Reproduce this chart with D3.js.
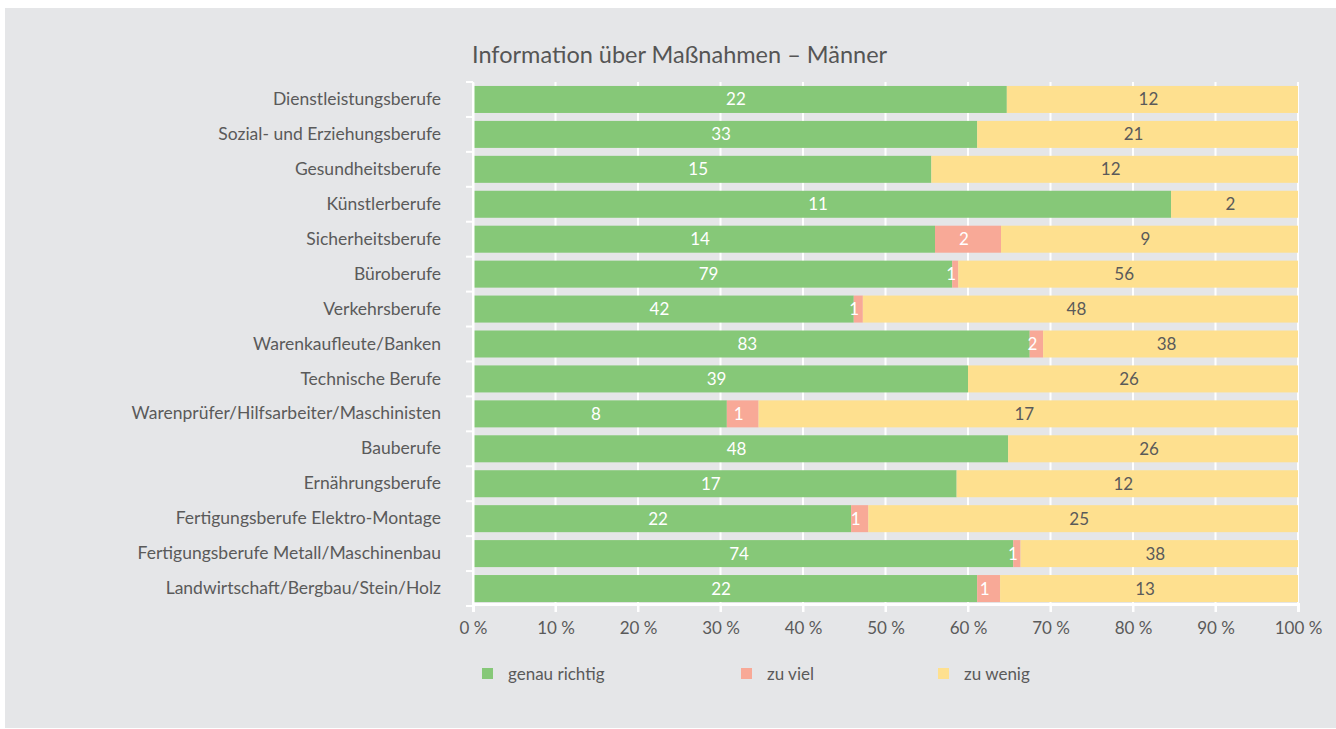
<!DOCTYPE html>
<html>
<head>
<meta charset="utf-8">
<script src="https://cdn.jsdelivr.net/npm/d3@7"></script>
<style>
  body { margin: 0; background: #fff; }
  text { font-family: "Lato", "Open Sans", sans-serif; }
</style>
</head>
<body>
<div id="chart-area"></div>
<script>
var categories = ["Dienstleistungsberufe", "Sozial- und Erziehungsberufe", "Gesundheitsberufe",
  "Künstlerberufe", "Sicherheitsberufe", "Büroberufe", "Verkehrsberufe", "Warenkaufleute/Banken",
  "Technische Berufe", "Warenprüfer/Hilfsarbeiter/Maschinisten", "Bauberufe", "Ernährungsberufe",
  "Fertigungsberufe Elektro-Montage", "Fertigungsberufe Metall/Maschinenbau",
  "Landwirtschaft/Bergbau/Stein/Holz"];
var genauRichtig = [22, 33, 15, 11, 14, 79, 42, 83, 39, 8, 48, 17, 22, 74, 22];
var zuViel       = [0, 0, 0, 0, 2, 1, 1, 2, 0, 1, 0, 0, 1, 1, 1];
var zuWenig      = [12, 21, 12, 2, 9, 56, 48, 38, 26, 17, 26, 12, 25, 38, 13];
var seriesNames = ["genau richtig", "zu viel", "zu wenig"];
var seriesColors = ["#86c878", "#f8a997", "#fee08f"];
var labelColors = ["#ffffff", "#ffffff", "#5a5a5a"];
var xTicks = [0, 10, 20, 30, 40, 50, 60, 70, 80, 90, 100];

var W = 1336, H = 729;
var svg = d3.select("#chart-area").append("svg")
  .attr("width", W).attr("height", H);

svg.append("rect")
  .attr("x", 5).attr("y", 8)
  .attr("width", W - 5).attr("height", 720)
  .attr("fill", "#e5e6e8");

var x = d3.scaleLinear().domain([0, 100]).range([473, 1298]);
var y = d3.scaleBand().domain(categories).range([82, 606])
  .paddingInner(0.227).paddingOuter(0.1135);
var color = d3.scaleOrdinal().domain(seriesNames).range(seriesColors);

// title
svg.append("text")
  .attr("x", 472).attr("y", 63)
  .attr("font-size", "23.5px")
  .attr("fill", "#555")
  .text("Information über Maßnahmen – Männer");

// gridlines (behind bars)
svg.append("g").selectAll("line")
  .data(xTicks)
  .enter().append("line")
  .attr("x1", d => x(d)).attr("x2", d => x(d))
  .attr("y1", 82).attr("y2", 612)
  .attr("stroke", "#fff").attr("stroke-width", 2);

// stacked data in percent
var rows = categories.map((c, i) => {
  var vals = [genauRichtig[i], zuViel[i], zuWenig[i]];
  var total = d3.sum(vals);
  var acc = 0;
  return vals.map((v, k) => {
    var seg = { cat: c, key: seriesNames[k], k: k, value: v, x0: acc / total * 100 };
    acc += v;
    seg.x1 = acc / total * 100;
    return seg;
  }).filter(s => s.value > 0);
});
var segs = [].concat.apply([], rows);

var bars = svg.append("g");
bars.selectAll("rect")
  .data(segs)
  .enter().append("rect")
  .attr("x", d => x(d.x0))
  .attr("y", d => y(d.cat))
  .attr("width", d => x(d.x1) - x(d.x0))
  .attr("height", y.bandwidth())
  .attr("fill", d => color(d.key));

bars.selectAll("text")
  .data(segs)
  .enter().append("text")
  .attr("x", d => (x(d.x0) + x(d.x1)) / 2 - 4)
  .attr("y", d => y(d.cat) + y.bandwidth() / 2 + 6)
  .attr("text-anchor", "middle")
  .attr("font-size", "17px")
  .attr("fill", d => labelColors[d.k])
  .text(d => d.value);

// y axis
var yAxisGroup = svg.append("g")
  .attr("transform", "translate(473,0)")
  .call(d3.axisLeft(y).tickSize(0).tickPadding(32));
yAxisGroup.select(".domain").attr("stroke", "#fff").attr("stroke-width", 2);
yAxisGroup.selectAll("text")
  .attr("font-size", "17.5px")
  .attr("fill", "#5a5a5a")
  .attr("font-family", null);

var gap = y.step() * y.paddingInner() / 2;
var bounds = categories.map(c => y(c) - gap);
bounds.push(y(categories[categories.length - 1]) + y.bandwidth() + gap);
yAxisGroup.selectAll(".bound")
  .data(bounds)
  .enter().append("line")
  .attr("class", "bound")
  .attr("x1", -7).attr("x2", 0)
  .attr("y1", d => d).attr("y2", d => d)
  .attr("stroke", "#fff").attr("stroke-width", 2);

// x axis
var xAxisGroup = svg.append("g")
  .attr("transform", "translate(0,604)")
  .call(d3.axisBottom(x).tickValues(xTicks).tickSize(8).tickPadding(10)
    .tickFormat(d => d + " %"));
xAxisGroup.select(".domain").attr("stroke", "#fff").attr("stroke-width", 3);
xAxisGroup.selectAll(".tick line").attr("stroke", "#fff").attr("stroke-width", 2);
xAxisGroup.selectAll("text")
  .attr("font-size", "17px")
  .attr("fill", "#5a5a5a")
  .attr("font-family", null);

// legend
var legendX = [482, 741, 938];
var legend = svg.append("g");
seriesNames.forEach((s, i) => {
  var row = legend.append("g").attr("transform", "translate(" + legendX[i] + ",668)");
  row.append("rect")
    .attr("width", 11).attr("height", 11)
    .attr("fill", color(s));
  row.append("text")
    .attr("x", 26).attr("y", 12)
    .attr("font-size", "17px")
    .attr("fill", "#5a5a5a")
    .text(s);
});
</script>
</body>
</html>
